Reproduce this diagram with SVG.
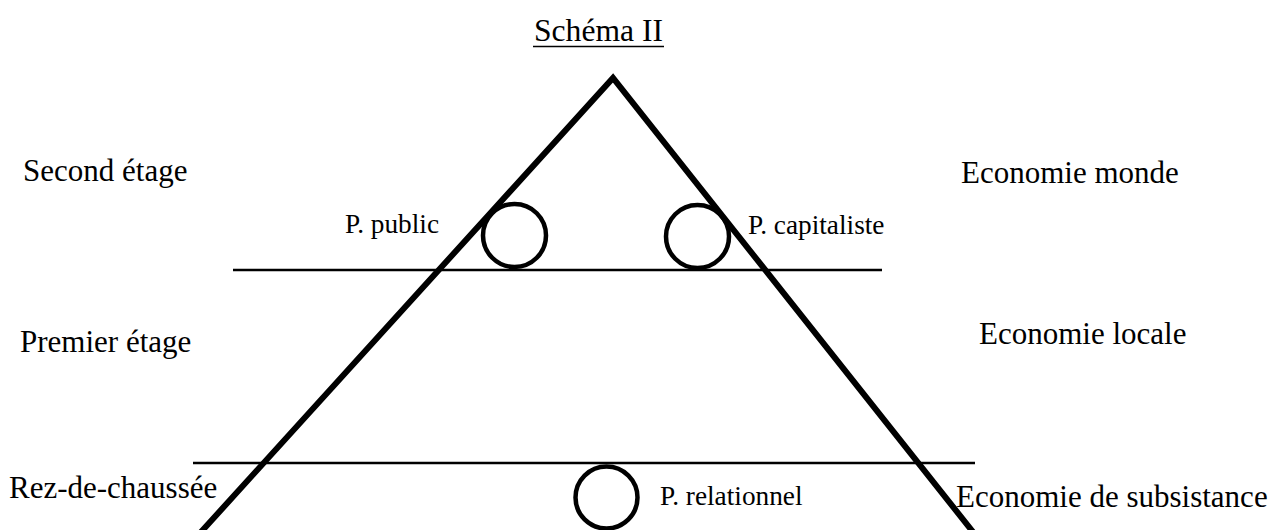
<svg xmlns="http://www.w3.org/2000/svg" width="1274" height="530" viewBox="0 0 1274 530">
<style>
.big{font-size:31px}
.small{font-size:27.3px}
.hl{stroke:#000;stroke-width:2.6;fill:none}
.pyr{stroke:#000;stroke-width:6;fill:none;stroke-linejoin:miter}
.c{stroke:#000;stroke-width:4.5;fill:none}
</style>
<rect width="1274" height="530" fill="#fff"/>
<g font-family="'Liberation Serif', 'Times New Roman', serif" fill="#000">
<g id="title">
<text class="big" x="534" y="41" style="font-size:31.6px">Schéma II</text>
<line x1="533" y1="46.5" x2="664" y2="46.5" stroke="#000" stroke-width="1.6"/>
</g>
<g id="connectors">
<line class="hl" x1="233" y1="270" x2="882" y2="270"/>
<line class="hl" x1="193" y1="463" x2="975" y2="463"/>
<path class="pyr" d="M201,532 L613,78 L973,532"/>
</g>
<g id="p-public">
<circle class="c" cx="514.5" cy="235.5" r="31.5"/>
<text class="small" x="345" y="233">P. public</text>
</g>
<g id="p-capitaliste">
<circle class="c" cx="697.5" cy="236.5" r="31.5"/>
<text class="small" x="748" y="234">P. capitaliste</text>
</g>
<g id="p-relationnel">
<circle class="c" cx="606.5" cy="497.5" r="31"/>
<text class="small" x="660" y="505">P. relationnel</text>
</g>
<g id="labels-left">
<text class="big" x="23" y="181">Second étage</text>
<text class="big" x="20" y="352">Premier étage</text>
<text class="big" x="9" y="498">Rez-de-chaussée</text>
</g>
<g id="labels-right">
<text class="big" x="961" y="183">Economie monde</text>
<text class="big" x="979" y="344">Economie locale</text>
<text class="big" x="956" y="507">Economie de subsistance</text>
</g>
</g>
</svg>
